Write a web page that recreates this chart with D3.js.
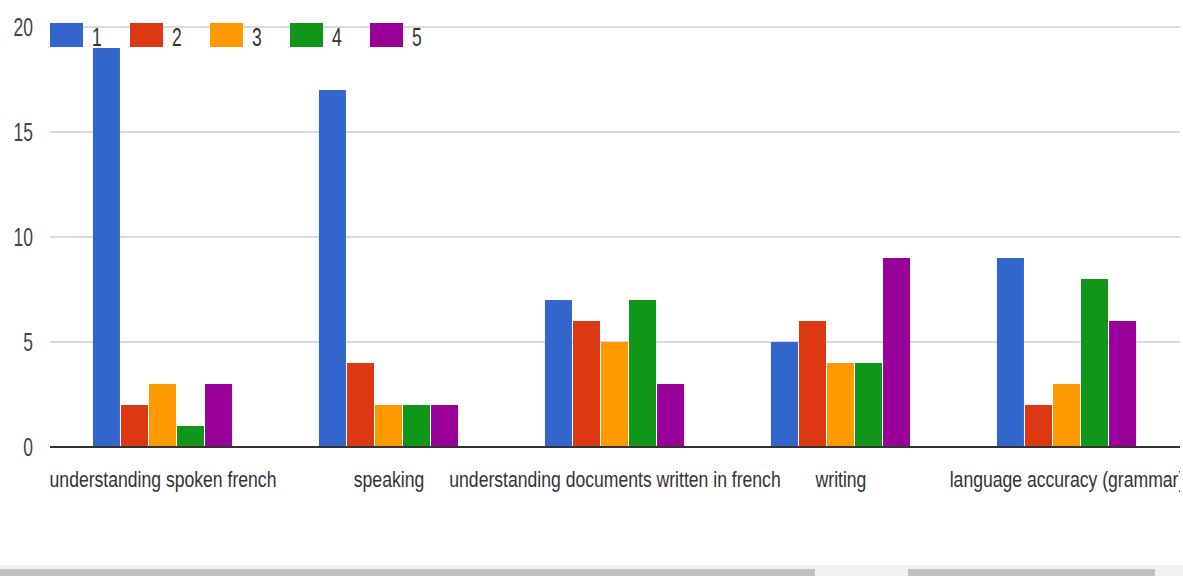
<!DOCTYPE html>
<html><head><meta charset="utf-8">
<script src="https://cdn.jsdelivr.net/npm/d3@7"></script>
<style>html,body{margin:0;padding:0;background:#fff;overflow:hidden}</style>
</head><body>
<svg id="c" width="1183" height="576"></svg>
<script>
const categories = ["understanding spoken french","speaking","understanding documents written in french","writing","language accuracy (grammar)"];
const seriesNames = ["1","2","3","4","5"];
const s1 = [19,17,7,5,9];
const s2 = [2,4,6,6,2];
const s3 = [3,2,5,4,3];
const s4 = [1,2,7,4,8];
const s5 = [3,2,3,9,6];
const yTicks = [0,5,10,15,20];
const colors = ["#3366cc","#dc3912","#ff9900","#109618","#990099"];
const series = [s1,s2,s3,s4,s5];

(function(){
const svg = d3.select("#c");
const W = 1183, H = 576;
const pLeft = 50, pRight = 1180, pTop = 27, pBottom = 447;
const font = "'Liberation Sans', Arial, sans-serif";

const x0 = d3.scaleBand().domain(categories).range([pLeft, pRight]).paddingInner(0.38).paddingOuter(0.19);
const x1 = d3.scaleBand().domain(seriesNames).range([0, x0.bandwidth()]);
const y = d3.scaleLinear().domain([0,20]).range([pBottom, pTop]);

svg.append("defs").append("clipPath").attr("id","clip").append("rect")
  .attr("x",0).attr("y",0).attr("width",pRight).attr("height",H);

svg.append("g").selectAll("line").data(yTicks.filter(d=>d>0)).join("line")
  .attr("x1",pLeft).attr("x2",pRight).attr("y1",d=>y(d)).attr("y2",d=>y(d))
  .attr("stroke","#dadada").attr("stroke-width",2);

svg.append("g").selectAll("text").data(yTicks).join("text")
  .attr("transform",d=>`translate(33,${y(d)+9}) scale(0.7,1)`)
  .attr("text-anchor","end").attr("font-family",font).attr("font-size",25).attr("fill","#444")
  .text(d=>d);

const g = svg.append("g");
categories.forEach((c,ci)=>{
  series.forEach((s,si)=>{
    g.append("rect")
      .attr("x", x0(c)+x1(seriesNames[si]))
      .attr("y", y(s[ci]))
      .attr("width", x1.bandwidth()-1)
      .attr("height", y(0)-y(s[ci]))
      .attr("fill", colors[si]);
  });
});

svg.append("line").attr("x1",pLeft).attr("x2",pRight).attr("y1",y(0)).attr("y2",y(0))
  .attr("stroke","#333").attr("stroke-width",2);

svg.append("g").attr("clip-path","url(#clip)").selectAll("text").data(categories).join("text")
  .attr("transform",d=>`translate(${x0(d)+x0.bandwidth()/2},487) scale(0.8,1)`)
  .attr("text-anchor","middle").attr("font-family",font).attr("font-size",22).attr("fill","#333")
  .text(d=>d);

const lg = svg.append("g");
seriesNames.forEach((n,i)=>{
  const lx = 50 + i*80;
  lg.append("rect").attr("x",lx).attr("y",23).attr("width",33).attr("height",24).attr("fill",colors[i]);
  lg.append("text").attr("transform",`translate(${lx+42},46) scale(0.7,1)`)
    .attr("font-family",font).attr("font-size",25).attr("fill","#333").text(n);
});

svg.append("rect").attr("x",0).attr("y",565).attr("width",W).attr("height",11).attr("fill","#f1f1f1");
svg.append("rect").attr("x",0).attr("y",569).attr("width",815).attr("height",7).attr("fill","#c1c1c1");
svg.append("rect").attr("x",908).attr("y",569).attr("width",247).attr("height",7).attr("fill","#c1c1c1");
})();
</script>
</body></html>
